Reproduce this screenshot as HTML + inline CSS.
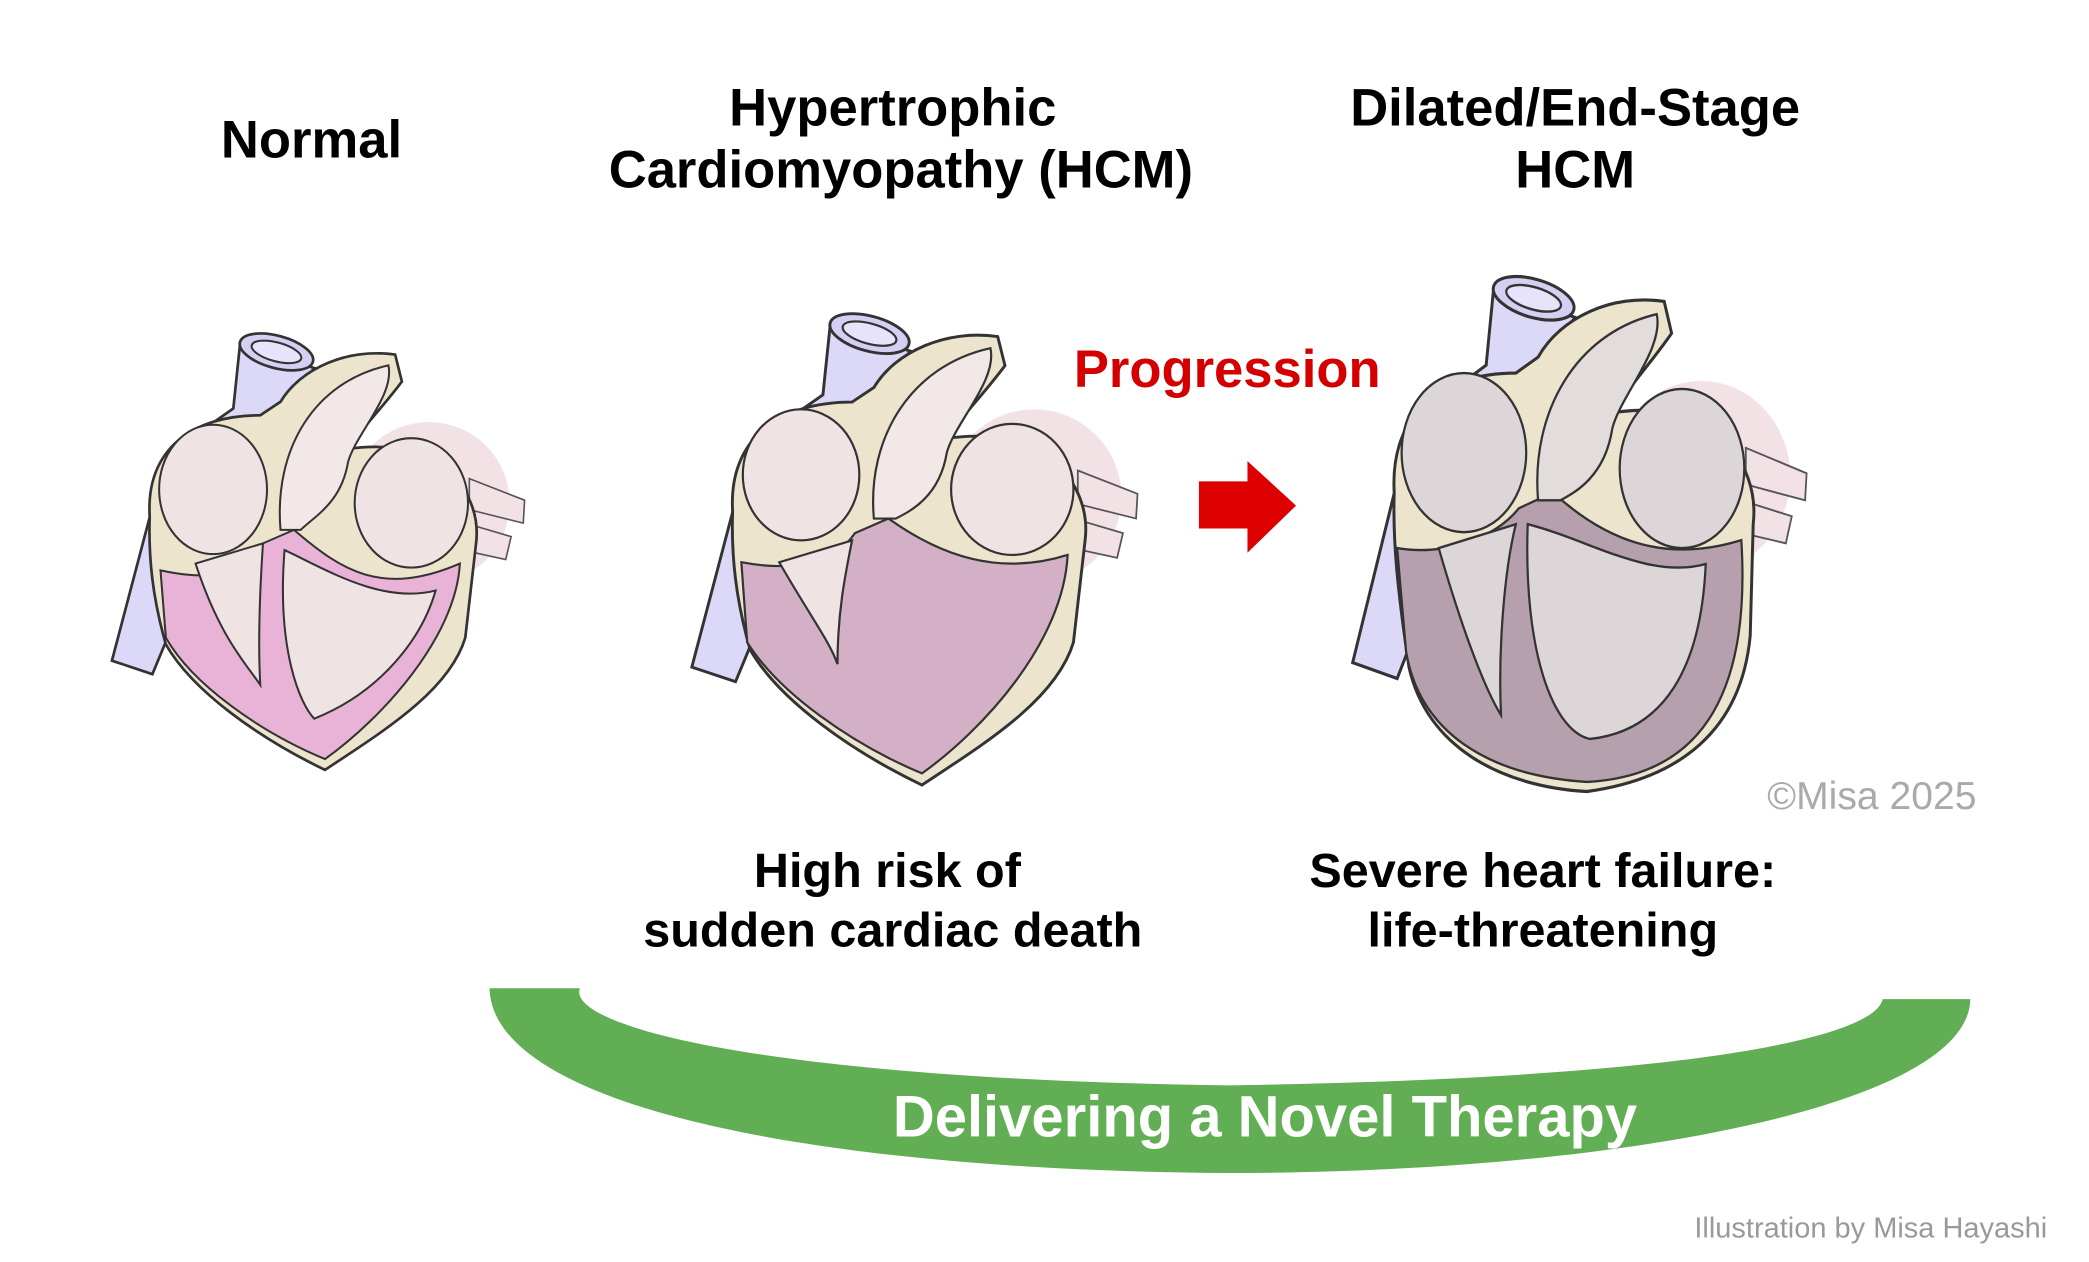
<!DOCTYPE html>
<html><head><meta charset="utf-8"><style>
html,body{margin:0;padding:0;background:#fff;}
svg{display:block;}
text{font-family:"Liberation Sans",sans-serif;}
</style></head><body>
<svg width="2089" height="1262" viewBox="0 0 1549 936" preserveAspectRatio="none" xmlns="http://www.w3.org/2000/svg">
<defs>
<g id="base">
  <path d="M0,247 L30,257 L95,100 L150,30 L95,12 L90,60 L40,95 Z" fill="#dcd8f8" stroke="#333" stroke-width="2"/>
  <ellipse cx="122" cy="18" rx="28" ry="12" transform="rotate(15 122 18)" fill="#d4d0f4" stroke="#333" stroke-width="2"/>
  <ellipse cx="122" cy="18" rx="19" ry="7" transform="rotate(15 122 18)" fill="#e6e3fb" stroke="#333" stroke-width="1.5"/>
  <circle cx="235" cy="130" r="60" fill="#f2e2e6"/>
  <path d="M265,112 L306,128 L305,145 L265,135 Z" fill="#f2e2e6" stroke="#555" stroke-width="1.2"/>
  <path d="M262,145 L296,155 L292,172 L260,165 Z" fill="#f2e2e6" stroke="#555" stroke-width="1.2"/>
</g>
</defs>

<g font-weight="bold" fill="#000" font-size="39" text-anchor="middle">
<text x="231" y="117">Normal</text>
<text x="662" y="93">Hypertrophic</text>
<text x="668" y="139">Cardiomyopathy (HCM)</text>
<text x="1168" y="93">Dilated/End-Stage</text>
<text x="1168" y="139">HCM</text>
<text x="658" y="658" font-size="36">High risk of</text>
<text x="662" y="702" font-size="36">sudden cardiac death</text>
<text x="1144" y="658" font-size="36">Severe heart failure:</text>
<text x="1144" y="702" font-size="36">life-threatening</text>
</g>
<text x="910" y="287" text-anchor="middle" font-size="39" font-weight="bold" fill="#d40000">Progression</text>
<path d="M889,357 L925,357 L925,342 L961,375 L925,410 L925,392 L889,392 Z" fill="#dd0000"/>
<text x="1388" y="600" text-anchor="middle" font-size="29" fill="#aaa">©Misa 2025</text>
<text x="1518" y="918" text-anchor="end" font-size="21.5" fill="#999">Illustration by Misa Hayashi</text>

<path d="M363,733 L430,733 C420,760 560,800 910,805 C1250,800 1390,770 1396,741 L1461,741 C1460,820 1200,870 910,870 C600,868 365,820 363,733 Z" fill="#62ae55"/>
<text x="938" y="843" text-anchor="middle" font-size="43" font-weight="bold" fill="#fff">Delivering a Novel Therapy</text>

<g transform="translate(83,243)">
  <use href="#base"/>
  <path d="M28,140 C25,90 60,65 110,65 L125,55 C140,30 175,15 210,20 L215,40 C200,60 185,75 175,90 C240,80 275,120 270,160 L262,230 C250,270 200,300 158,328 C110,305 60,270 40,235 C30,200 27,170 28,140 Z" fill="#ece4cc" stroke="#333" stroke-width="2"/>
  <path d="M36,180 C60,185 95,190 112,160 L135,150 C170,180 200,200 258,175 C255,230 200,290 158,320 C110,300 60,265 40,230 Z" fill="#e8b3d6" stroke="#333" stroke-width="1.5"/>
  <ellipse cx="75" cy="120" rx="40" ry="48" fill="#f0e3e3" stroke="#333" stroke-width="1.5"/>
  <path d="M125,150 C120,90 150,40 205,28 C210,50 180,80 175,100 C170,130 150,140 140,150 Z" fill="#f3e8e8" stroke="#333" stroke-width="1.5"/>
  <ellipse cx="222" cy="130" rx="42" ry="48" fill="#f0e3e3" stroke="#333" stroke-width="1.5"/>
  <path d="M128,165 C122,240 140,280 150,290 C200,270 230,230 240,195 C200,205 160,180 128,165 Z" fill="#f0e3e3" stroke="#333" stroke-width="1.5"/>
  <path d="M62,175 C80,230 100,250 110,265 C108,230 110,190 112,160 Z" fill="#f0e3e3" stroke="#333" stroke-width="1.5"/>
</g>

<g transform="translate(513,228) scale(1.08)">
  <use href="#base"/>
  <path d="M28,140 C25,90 60,65 110,65 L125,55 C140,30 175,15 210,20 L215,40 C200,60 185,75 175,90 C240,80 275,120 270,160 L262,230 C250,270 200,300 158,328 C110,305 60,270 40,235 C30,200 27,170 28,140 Z" fill="#ece4cc" stroke="#333" stroke-width="2"/>
  <path d="M34,175 C60,180 95,180 112,155 L135,145 C170,170 210,185 258,170 C255,230 200,290 158,320 C110,300 60,265 38,230 Z" fill="#d3b0c6" stroke="#333" stroke-width="1.5"/>
  <ellipse cx="75" cy="115" rx="40" ry="45" fill="#f0e3e3" stroke="#333" stroke-width="1.5"/>
  <path d="M125,145 C120,90 150,40 205,28 C210,50 180,80 175,100 C170,130 150,140 140,145 Z" fill="#f3e8e8" stroke="#333" stroke-width="1.5"/>
  <ellipse cx="220" cy="125" rx="42" ry="45" fill="#f0e3e3" stroke="#333" stroke-width="1.5"/>
  <path d="M60,175 C80,210 95,230 100,245 C100,210 105,185 110,160 Z" fill="#f0e3e3" stroke="#333" stroke-width="1.5"/>
</g>

<g transform="translate(1003,200) scale(1.1,1.18)">
  <use href="#base"/>
  <path d="M28,140 C25,90 60,65 110,65 L125,55 C140,30 175,15 210,20 L215,40 C200,60 185,75 175,90 C240,80 275,120 270,160 L268,230 C262,290 220,320 158,328 C100,325 50,300 38,250 C30,200 27,170 28,140 Z" fill="#ece4cc" stroke="#333" stroke-width="2"/>
  <path d="M30,175 C60,180 95,170 112,150 L135,140 C170,170 210,185 262,170 C268,260 240,318 158,322 C90,318 45,290 36,240 Z" fill="#b6a0ae" stroke="#333" stroke-width="1.5"/>
  <ellipse cx="75" cy="115" rx="42" ry="50" fill="#ddd6d8" stroke="#333" stroke-width="1.5"/>
  <path d="M125,145 C120,90 150,40 205,28 C210,50 180,80 175,100 C170,130 150,140 140,145 Z" fill="#e2dcdc" stroke="#333" stroke-width="1.5"/>
  <ellipse cx="222" cy="125" rx="42" ry="50" fill="#ddd6d8" stroke="#333" stroke-width="1.5"/>
  <path d="M118,160 C115,240 135,290 160,295 C210,290 235,250 238,185 C200,195 160,170 118,160 Z" fill="#ddd6d8" stroke="#333" stroke-width="1.5"/>
  <path d="M58,175 C75,230 90,265 100,280 C98,240 102,190 110,160 Z" fill="#ddd6d8" stroke="#333" stroke-width="1.5"/>
</g>
</svg>
</body></html>
